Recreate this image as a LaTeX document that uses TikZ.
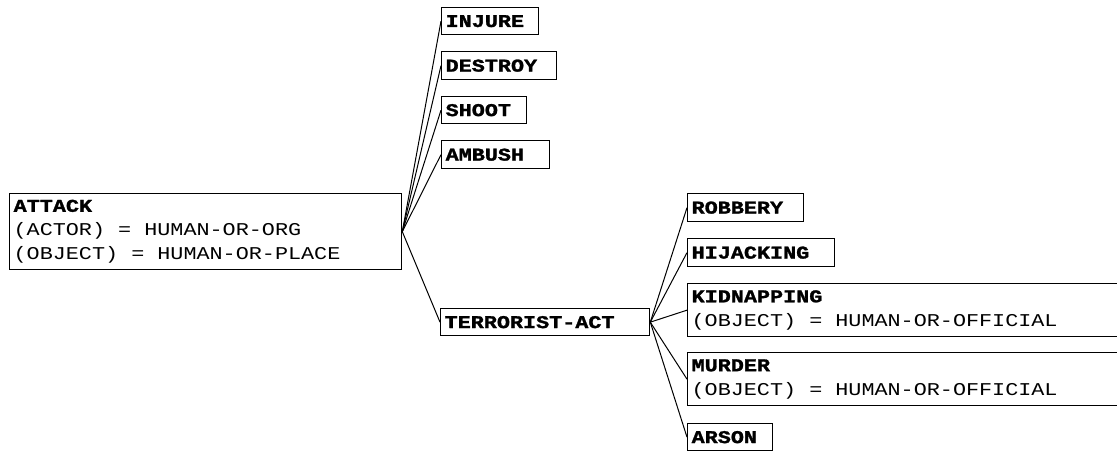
\documentclass[tikz,border=0pt]{standalone}
\usepackage{fontspec}
\newfontfamily\courf[FakeStretch=1.21,BoldFeatures={FakeBold=1.5}]{Liberation Mono}
\newcommand{\hd}[1]{{\bfseries #1}}
\newcommand{\sps}{\phantom{X}}
\tikzset{
  box/.style={draw, line width=1.3pt, anchor=north west, inner xsep=4pt, inner ysep=0pt,
    align=left, font=\courf\fontsize{18}{24}\selectfont},
  link/.style={line width=1pt}
}
\begin{document}
\begin{tikzpicture}[x=1pt,y=-1pt]
\useasboundingbox (0,0) rectangle (1117,451);
\clip (0,0) rectangle (1117,451);
\node[box, text width=384pt, minimum height=76pt] (attack) at (9,193)
  {\hd{ATTACK}\\(ACTOR)\sps=\sps{}HUMAN-OR-ORG\\(OBJECT)\sps=\sps{}HUMAN-OR-PLACE};
\node[box, text width=89pt, minimum height=27pt] (injure) at (441,7) {\hd{INJURE}};
\node[box, text width=107pt, minimum height=28pt] (destroy) at (441,51) {\hd{DESTROY}};
\node[box, text width=77pt, minimum height=27pt] (shoot) at (441,96) {\hd{SHOOT}};
\node[box, text width=100pt, minimum height=28pt] (ambush) at (441,140) {\hd{AMBUSH}};
\node[box, text width=201pt, minimum height=27pt] (terror) at (440,308) {\hd{TERRORIST-ACT}};
\node[box, text width=108pt, minimum height=28pt] (robbery) at (687,193) {\hd{ROBBERY}};
\node[box, text width=139pt, minimum height=28pt] (hijack) at (687,238) {\hd{HIJACKING}};
\node[box, text width=430pt, minimum height=53pt] (kidnap) at (687,283)
  {\hd{KIDNAPPING}\\(OBJECT)\sps=\sps{}HUMAN-OR-OFFICIAL};
\node[box, text width=430pt, minimum height=53pt] (murder) at (687,352)
  {\hd{MURDER}\\(OBJECT)\sps=\sps{}HUMAN-OR-OFFICIAL};
\node[box, text width=77pt, minimum height=27pt] (arson) at (687,423) {\hd{ARSON}};
\foreach \t in {injure,destroy,shoot,ambush,terror}
  \draw[link] (attack.east) -- (\t.west);
\foreach \t in {robbery,hijack,kidnap,murder,arson}
  \draw[link] (terror.east) -- (\t.west);
\end{tikzpicture}
\end{document}
